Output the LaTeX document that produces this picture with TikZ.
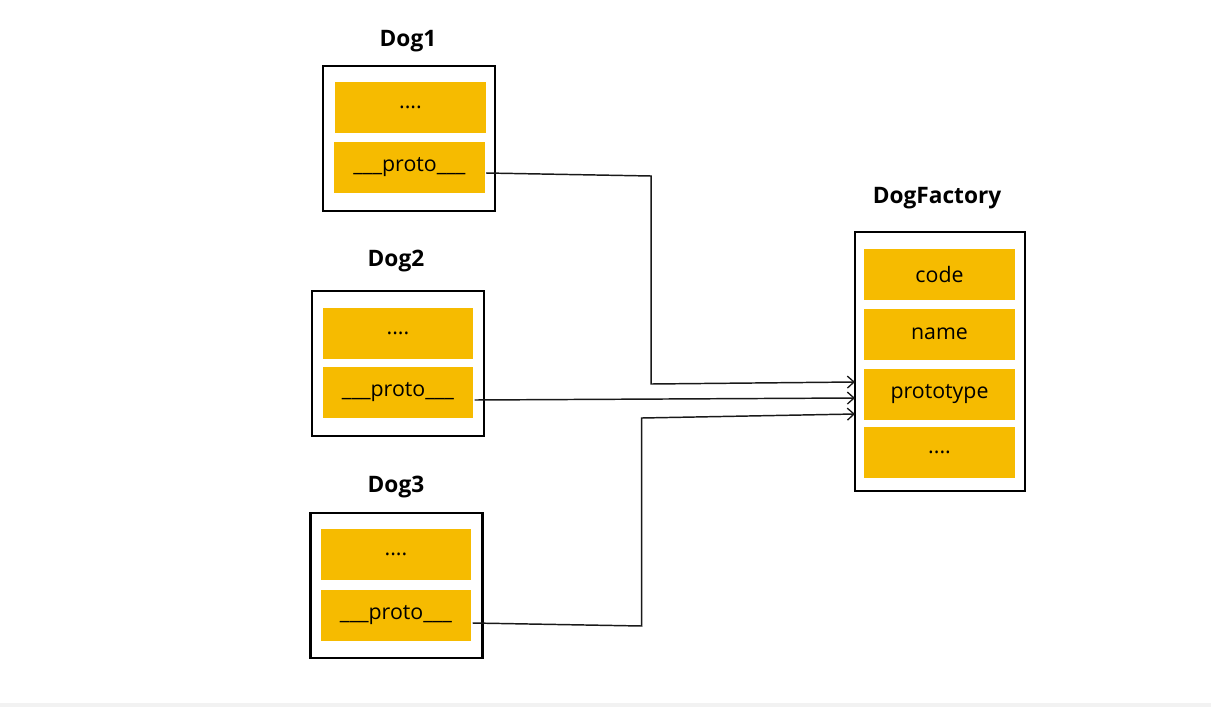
\documentclass[tikz,border=0pt]{standalone}
\usepackage{fontspec}
\setmainfont{Open Sans}
\usetikzlibrary{arrows.meta,calc}
\definecolor{rowyellow}{RGB}{246,187,0}
\definecolor{stripgray}{RGB}{242,242,242}
\tikzset{
  objbox/.style={draw=black, line width=1.6pt, fill=white, minimum width=129pt, minimum height=108.75pt, inner sep=0pt},
  factbox/.style={draw=black, line width=1.6pt, fill=white, minimum width=127.5pt, minimum height=194.25pt, inner sep=0pt},
  row/.style={fill=rowyellow, minimum width=113pt, minimum height=38.25pt, inner sep=0pt, font=\fontsize{16}{19}\selectfont, text=black},
  title/.style={font=\fontsize{17}{20}\selectfont\bfseries, text=black},
  conn/.style={draw=black!90, line width=1.1pt, -{Straight Barb[length=5pt,width=9pt,line width=1pt]}}
}
\begin{document}
\begin{tikzpicture}[x=0.75pt,y=-0.75pt]
\useasboundingbox (0,0) rectangle (1211,707);
\fill[white] (0,0) rectangle (1211,707);
\fill[stripgray] (0,703) rectangle (1211,707);

% Dog1
\node[title] (t1) at (408,41) {Dog1};
\node[objbox] (d1) at (409,138.5) {};
\node[row] (d1a) at (410.5,107.5) {....};
\node[row] (d1p) at (409.5,167.5) {\_\_\_proto\_\_\_};

% Dog2
\node[title] (t2) at (396,261) {Dog2};
\node[objbox] (d2) at (398,363.5) {};
\node[row] (d2a) at (398,333) {....};
\node[row] (d2p) at (398,392.5) {\_\_\_proto\_\_\_};

% Dog3
\node[title] (t3) at (396,487) {Dog3};
\node[objbox] (d3) at (396.5,585.5) {};
\node[row] (d3a) at (396,554.5) {....};
\node[row] (d3p) at (396,615) {\_\_\_proto\_\_\_};

% DogFactory
\node[title] (tf) at (937,198) {DogFactory};
\node[factbox] (df) at (940,361.5) {};
\node[row] (fcode) at (939.5,274.5) {code};
\node[row] (fname) at (939.5,334) {name};
\node[row] (fproto) at (939.5,394) {prototype};
\node[row] (fdots) at (939.5,452.5) {....};

% arrow ends
\coordinate (e1) at (855,382);
\coordinate (e2) at (855,398);
\coordinate (e3) at (855,414);

\draw[conn] ($(d1p.east)+(1,5.5)$) -- ++(165,3) -- ++(0,208) -- (e1);
\draw[conn] ($(d2p.east)+(1,7.5)$) -- (e2);
\draw[conn] ($(d3p.east)+(1,8)$) -- ++(169,3) -- ++(0,-208) -- (e3);
\end{tikzpicture}
\end{document}
